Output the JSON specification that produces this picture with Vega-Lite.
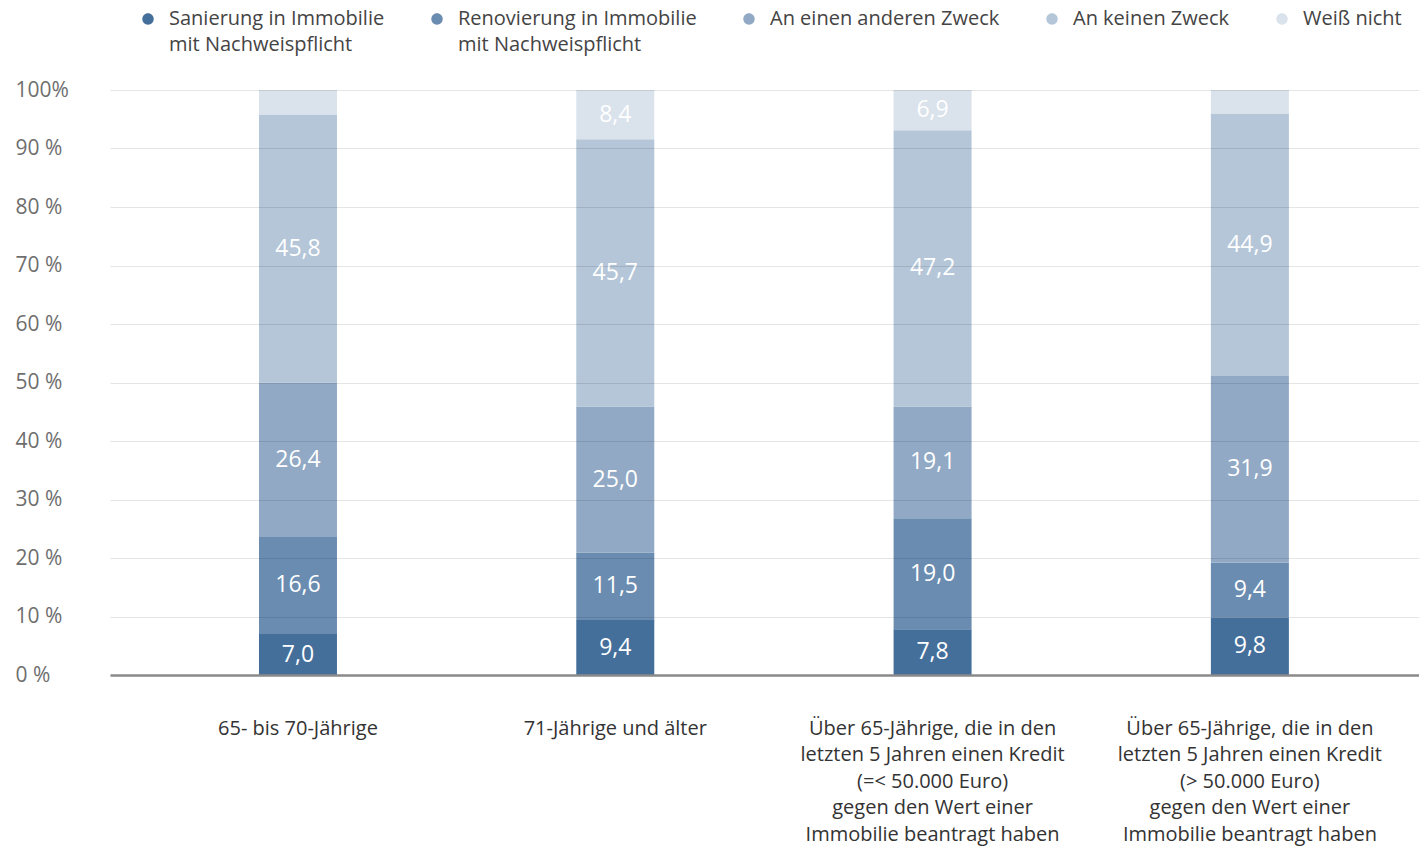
{
  "$schema": "https://vega.github.io/schema/vega-lite/v6.json",
  "width": 1309,
  "height": 585,
  "autosize": {"type": "none"},
  "padding": {"left": 110, "top": 90, "right": 0, "bottom": 173},
  "background": "white",
  "config": {
    "view": {"stroke": null},
    "font": "Open Sans",
    "style": {"guide-label": {"lineHeight": 26}},
    "locale": {"number": {"decimal": ",", "thousands": ".", "grouping": [3], "currency": ["", " €"]}}
  },
  "data": {
    "values": [
      {"gruppe": "65- bis 70-Jährige", "g": 1, "kategorie": "Sanierung in Immobilie|mit Nachweispflicht", "k": 1, "wert": 7.0},
      {"gruppe": "65- bis 70-Jährige", "g": 1, "kategorie": "Renovierung in Immobilie|mit Nachweispflicht", "k": 2, "wert": 16.6},
      {"gruppe": "65- bis 70-Jährige", "g": 1, "kategorie": "An einen anderen Zweck|", "k": 3, "wert": 26.4},
      {"gruppe": "65- bis 70-Jährige", "g": 1, "kategorie": "An keinen Zweck|", "k": 4, "wert": 45.8},
      {"gruppe": "65- bis 70-Jährige", "g": 1, "kategorie": "Weiß nicht|", "k": 5, "wert": 4.2},
      {"gruppe": "71-Jährige und älter", "g": 2, "kategorie": "Sanierung in Immobilie|mit Nachweispflicht", "k": 1, "wert": 9.4},
      {"gruppe": "71-Jährige und älter", "g": 2, "kategorie": "Renovierung in Immobilie|mit Nachweispflicht", "k": 2, "wert": 11.5},
      {"gruppe": "71-Jährige und älter", "g": 2, "kategorie": "An einen anderen Zweck|", "k": 3, "wert": 25.0},
      {"gruppe": "71-Jährige und älter", "g": 2, "kategorie": "An keinen Zweck|", "k": 4, "wert": 45.7},
      {"gruppe": "71-Jährige und älter", "g": 2, "kategorie": "Weiß nicht|", "k": 5, "wert": 8.4},
      {"gruppe": "Über 65-Jährige, die in den|letzten 5 Jahren einen Kredit|(=< 50.000 Euro)|gegen den Wert einer|Immobilie beantragt haben", "g": 3, "kategorie": "Sanierung in Immobilie|mit Nachweispflicht", "k": 1, "wert": 7.8},
      {"gruppe": "Über 65-Jährige, die in den|letzten 5 Jahren einen Kredit|(=< 50.000 Euro)|gegen den Wert einer|Immobilie beantragt haben", "g": 3, "kategorie": "Renovierung in Immobilie|mit Nachweispflicht", "k": 2, "wert": 19.0},
      {"gruppe": "Über 65-Jährige, die in den|letzten 5 Jahren einen Kredit|(=< 50.000 Euro)|gegen den Wert einer|Immobilie beantragt haben", "g": 3, "kategorie": "An einen anderen Zweck|", "k": 3, "wert": 19.1},
      {"gruppe": "Über 65-Jährige, die in den|letzten 5 Jahren einen Kredit|(=< 50.000 Euro)|gegen den Wert einer|Immobilie beantragt haben", "g": 3, "kategorie": "An keinen Zweck|", "k": 4, "wert": 47.2},
      {"gruppe": "Über 65-Jährige, die in den|letzten 5 Jahren einen Kredit|(=< 50.000 Euro)|gegen den Wert einer|Immobilie beantragt haben", "g": 3, "kategorie": "Weiß nicht|", "k": 5, "wert": 6.9},
      {"gruppe": "Über 65-Jährige, die in den|letzten 5 Jahren einen Kredit|(> 50.000 Euro)|gegen den Wert einer|Immobilie beantragt haben", "g": 4, "kategorie": "Sanierung in Immobilie|mit Nachweispflicht", "k": 1, "wert": 9.8},
      {"gruppe": "Über 65-Jährige, die in den|letzten 5 Jahren einen Kredit|(> 50.000 Euro)|gegen den Wert einer|Immobilie beantragt haben", "g": 4, "kategorie": "Renovierung in Immobilie|mit Nachweispflicht", "k": 2, "wert": 9.4},
      {"gruppe": "Über 65-Jährige, die in den|letzten 5 Jahren einen Kredit|(> 50.000 Euro)|gegen den Wert einer|Immobilie beantragt haben", "g": 4, "kategorie": "An einen anderen Zweck|", "k": 3, "wert": 31.9},
      {"gruppe": "Über 65-Jährige, die in den|letzten 5 Jahren einen Kredit|(> 50.000 Euro)|gegen den Wert einer|Immobilie beantragt haben", "g": 4, "kategorie": "An keinen Zweck|", "k": 4, "wert": 44.9},
      {"gruppe": "Über 65-Jährige, die in den|letzten 5 Jahren einen Kredit|(> 50.000 Euro)|gegen den Wert einer|Immobilie beantragt haben", "g": 4, "kategorie": "Weiß nicht|", "k": 5, "wert": 4.0}
    ]
  },
  "encoding": {
    "x": {
      "field": "gruppe",
      "type": "nominal",
      "sort": {"field": "g"},
      "scale": {"paddingInner": 0, "paddingOuter": 0.0627, "align": 0.737},
      "axis": {
        "title": null,
        "labelAngle": 0,
        "labelExpr": "split(datum.label, '|')",
        "labelFont": "Open Sans",
        "labelFontSize": 20,
        "labelColor": "#333333",
        "labelLineHeight": 26.5,
        "labelBaseline": "top",
        "labelPadding": 43,
        "labelLimit": 400,
        "ticks": false,
        "domain": true,
        "domainColor": "#8a8a8a",
        "domainWidth": 2.5,
        "grid": false,
        "zindex": 2
      }
    },
    "y": {
      "field": "wert",
      "type": "quantitative",
      "stack": "zero",
      "scale": {"domain": [0, 100], "nice": false},
      "axis": {
        "title": null,
        "values": [0, 10, 20, 30, 40, 50, 60, 70, 80, 90, 100],
        "labelExpr": "datum.value == 100 ? '100%' : datum.value + ' %'",
        "labelFont": "Open Sans",
        "labelFontSize": 21,
        "labelColor": "#6e6e6e",
        "labelAlign": "left",
        "labelBaseline": "middle",
        "labelPadding": 95,
        "ticks": false,
        "domain": false,
        "grid": true,
        "gridColor": "#000000",
        "gridOpacity": 0.1,
        "gridWidth": 1.2,
        "zindex": 1
      }
    },
    "order": {"field": "k", "type": "quantitative"}
  },
  "layer": [
    {
      "mark": {"type": "bar", "size": 78},
      "encoding": {
        "color": {
          "field": "kategorie",
          "type": "nominal",
          "sort": ["Sanierung in Immobilie|mit Nachweispflicht", "Renovierung in Immobilie|mit Nachweispflicht", "An einen anderen Zweck|", "An keinen Zweck|", "Weiß nicht|"],
          "scale": {
            "domain": ["Sanierung in Immobilie|mit Nachweispflicht", "Renovierung in Immobilie|mit Nachweispflicht", "An einen anderen Zweck|", "An keinen Zweck|", "Weiß nicht|"],
            "range": ["#456f9b", "#6a8cb0", "#91a9c4", "#b4c6d8", "#dae2eb"]
          },
          "legend": {
            "title": null,
            "orient": "none",
            "direction": "horizontal",
            "legendX": 28,
            "legendY": -91,
            "padding": 0,
            "symbolType": "M -1 1.75 A 1 1 0 1 0 1 1.75 A 1 1 0 1 0 -1 1.75 Z",
            "symbolSize": 130,
            "symbolStrokeWidth": 0,
            "labelExpr": "split(datum.label, '|')",
            "labelFont": "Open Sans",
            "labelFontSize": 20,
            "labelColor": "#444444",
            "labelLimit": 400,
            "labelOffset": 11,
            "labelBaseline": "top",
            "columnPadding": 42
          }
        }
      }
    },
    {
      "transform": [{"filter": "datum.wert >= 5"}],
      "mark": {"type": "text", "color": "white", "font": "Open Sans", "fontSize": 23, "baseline": "middle", "align": "center"},
      "encoding": {
        "y": {"field": "wert", "type": "quantitative", "stack": "zero", "bandPosition": 0.5},
        "text": {"field": "wert", "type": "quantitative", "format": ".1f"}
      }
    }
  ]
}
